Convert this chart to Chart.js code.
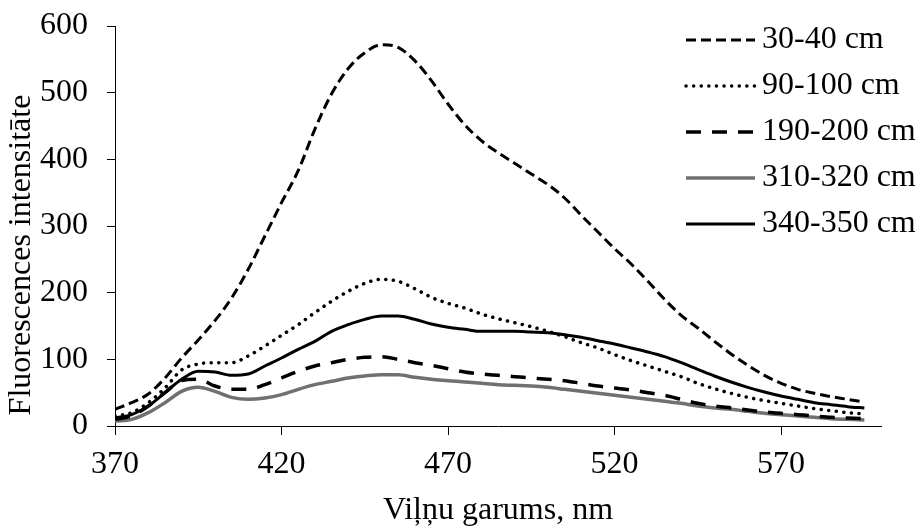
<!DOCTYPE html>
<html>
<head>
<meta charset="utf-8">
<script src="https://cdn.jsdelivr.net/npm/chart.js@4.4.1/dist/chart.umd.min.js"></script>
<style>
  html, body { margin: 0; padding: 0; background: #fff; }
  #wrap { width: 918px; height: 532px; position: relative; }
</style>
</head>
<body>
<div id="wrap"><canvas id="chart"></canvas></div>
<script>
const FONT = '"Liberation Serif", "Times New Roman", serif';

// wavelengths, nm
const wavelengths = [370, 375, 380, 385, 390, 395, 400, 405, 410, 415, 420, 425, 430, 435, 440, 445,
  450, 455, 460, 465, 470, 475, 480, 485, 490, 495, 500, 505, 510, 515, 520, 525, 530, 535, 540, 545,
  550, 555, 560, 565, 570, 575, 580, 585, 590, 595];

const depth30_40 = [25, 35, 48, 72, 102, 129, 158, 192, 235, 285, 335, 383, 445, 498, 536, 560,
  572, 568, 548, 518, 483, 452, 428, 410, 394, 378, 362, 342, 316, 291, 266, 243, 217, 190, 166, 147,
  127, 108, 91, 76, 64, 55, 49, 44, 40, 36];
const depth90_100 = [15, 20, 35, 57, 84, 93, 95, 95, 105, 120, 136, 152, 170, 187, 202, 214,
  220, 217, 206, 193, 184, 177, 168, 161, 155, 149, 142, 134, 125, 117, 107, 98, 90, 82, 74, 64,
  56, 49, 43, 38, 34, 30, 26, 23, 20, 18];
const depth190_200 = [10, 15, 30, 50, 68, 70, 60, 55, 55, 62, 72, 82, 90, 95, 100, 103,
  104, 100, 95, 91, 86, 81, 78, 76, 74, 72, 70, 68, 64, 60, 57, 54, 50, 46, 40, 34,
  30, 27, 24, 21, 19, 17, 15, 13, 12, 11];
const depth310_320 = [7, 10, 20, 35, 52, 58, 52, 43, 40, 42, 47, 55, 62, 67, 72, 75,
  77, 77, 73, 70, 68, 66, 64, 62, 61, 60, 58, 55, 52, 49, 46, 43, 40, 37, 34, 30,
  27, 25, 22, 19, 17, 15, 13, 11, 10, 9];
const depth340_350 = [12, 17, 30, 50, 70, 82, 81, 76, 78, 90, 102, 115, 127, 142, 152, 160,
  165, 165, 160, 153, 148, 145, 142, 142, 142, 141, 140, 137, 133, 128, 123, 117, 111, 104, 95, 85,
  75, 66, 58, 51, 45, 40, 35, 32, 29, 27];

const xTicks = [370, 420, 470, 520, 570];
const yTicks = [0, 100, 200, 300, 400, 500, 600];
const yTitle = 'Fluorescences intensitāte';

const toPoints = (vals) => vals.map((v, i) => ({ x: wavelengths[i], y: v }));

// legend inside the plot (top right) + y title, which sits a bit below the plot centre
const extras = {
  id: 'extras',
  afterDraw(chart) {
    const ctx = chart.ctx;
    chart.data.datasets.forEach((ds, i) => {
      const y = 40 + i * 46;
      ctx.save();
      ctx.strokeStyle = ds.borderColor;
      ctx.lineWidth = ds.borderWidth;
      ctx.lineCap = ds.borderCapStyle || 'butt';
      ctx.setLineDash(ds.borderDash || []);
      ctx.beginPath();
      ctx.moveTo(686, y);
      ctx.lineTo(755, y);
      ctx.stroke();
      ctx.setLineDash([]);
      ctx.fillStyle = '#000';
      ctx.font = '32px ' + FONT;
      ctx.textBaseline = 'middle';
      ctx.fillText(ds.label, 762, y);
      ctx.restore();
    });
    ctx.save();
    ctx.translate(22, 255);
    ctx.rotate(-Math.PI / 2);
    ctx.fillStyle = '#000';
    ctx.font = '32px ' + FONT;
    ctx.textAlign = 'center';
    ctx.textBaseline = 'middle';
    ctx.fillText(yTitle, 0, 0);
    ctx.restore();
  }
};

const common = { pointRadius: 0, fill: false, tension: 0.4, cubicInterpolationMode: 'monotone' };

new Chart(document.getElementById('chart'), {
  type: 'line',
  data: {
    datasets: [
      { ...common, label: '30-40 cm', data: toPoints(depth30_40), borderColor: '#000', borderWidth: 3, borderDash: [10, 5] },
      { ...common, label: '90-100 cm', data: toPoints(depth90_100), borderColor: '#000', borderWidth: 3.5, borderDash: [0.1, 7.5], borderCapStyle: 'round' },
      { ...common, label: '190-200 cm', data: toPoints(depth190_200), borderColor: '#000', borderWidth: 3.5, borderDash: [15, 11] },
      { ...common, label: '310-320 cm', data: toPoints(depth310_320), borderColor: '#707070', borderWidth: 3.5 },
      { ...common, label: '340-350 cm', data: toPoints(depth340_350), borderColor: '#000', borderWidth: 3 },
    ],
  },
  options: {
    responsive: true,
    maintainAspectRatio: false,
    animation: false,
    layout: { padding: { top: 26, right: 37, left: 0, bottom: 0 } },
    plugins: { legend: { display: false }, tooltip: { enabled: false } },
    scales: {
      x: {
        type: 'linear',
        min: 370,
        max: 600,
        afterBuildTicks: (scale) => { scale.ticks = xTicks.map((v) => ({ value: v })); },
        afterFit: (scale) => { scale.height = 106; },
        border: { display: true, color: '#000', width: 1 },
        grid: { display: true, drawOnChartArea: false, drawTicks: true, tickLength: 9, color: '#000' },
        ticks: { color: '#000', font: { family: FONT, size: 32 }, padding: 10, maxRotation: 0 },
        title: { display: true, text: 'Viļņu garums, nm', color: '#000', font: { family: FONT, size: 32 }, padding: { top: 0, bottom: 2 } },
      },
      y: {
        min: 0,
        max: 600,
        afterBuildTicks: (scale) => { scale.ticks = yTicks.map((v) => ({ value: v })); },
        afterFit: (scale) => {
          scale.width = 115;
          scale.paddingTop = 0;
          scale.paddingBottom = 0;
        },
        border: { display: true, color: '#000', width: 1 },
        grid: { display: true, drawOnChartArea: false, drawTicks: true, tickLength: 8, color: '#000' },
        ticks: { color: '#000', font: { family: FONT, size: 32 }, padding: 19 },
      },
    },
  },
  plugins: [extras],
});
</script>
</body>
</html>
